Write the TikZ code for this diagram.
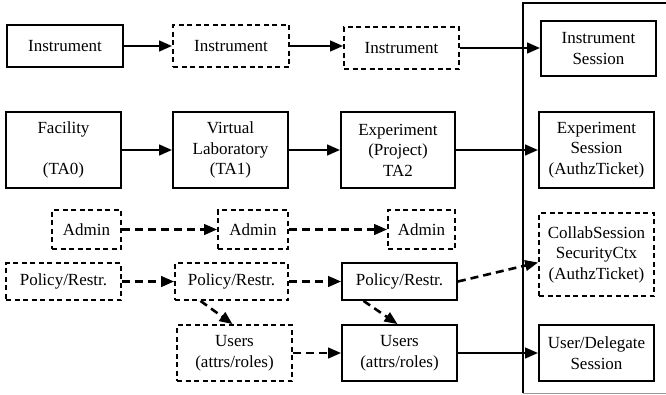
\documentclass[tikz,border=0pt]{standalone}
\usepackage{fontspec}
\setmainfont{Liberation Serif}
\usetikzlibrary{arrows.meta,positioning}

\begin{document}
\begin{tikzpicture}[
  x=1pt, y=-1pt, >={Triangle[length=13pt,width=10.5pt]},
  every node/.style={font=\fontsize{17}{20.5}\selectfont},
  blk/.style={draw, line width=1.8pt, align=center, inner sep=0pt},
  dbox/.style={blk, dash pattern=on 5pt off 3.5pt},
  flow/.style={->, line width=2.6pt},
  dflow/.style={flow, dash pattern=on 8pt off 5pt}
]
  \useasboundingbox (0,0) rectangle (666,394);

  % session frame
  \draw[line width=1.4pt] (666,3) -- (523,3) -- (523,393);
  \draw[line width=1pt, black!40] (523,393) -- (666,393);

  % instrument row
  \node[blk, minimum width=116pt, minimum height=42pt] (instA) at (65,46) {Instrument};
  \node[dbox, minimum width=116pt, minimum height=42pt] (instB) at (231,46) {Instrument};
  \node[dbox, minimum width=115pt, minimum height=42pt] (instC) at (401.5,48) {Instrument};
  \node[blk, minimum width=115pt, minimum height=55pt] (instS) at (598.5,48.5) {Instrument\\Session};

  % authority row
  \node[blk, minimum width=115pt, minimum height=76pt] (fac) at (63.5,150) {Facility\\~\\(TA0)};
  \node[blk, minimum width=115pt, minimum height=76pt] (vlab) at (230.5,150) {Virtual\\Laboratory\\(TA1)};
  \node[blk, minimum width=114pt, minimum height=76pt] (exp) at (398,150) {Experiment\\(Project)\\TA2};
  \node[blk, minimum width=115pt, minimum height=76pt] (expS) at (596.5,150) {Experiment\\Session\\(AuthzTicket)};

  % admin row
  \node[dbox, minimum width=69pt, minimum height=39pt] (admA) at (86.5,229.5) {Admin};
  \node[dbox, minimum width=70pt, minimum height=39pt] (admB) at (253,229.5) {Admin};
  \node[dbox, minimum width=67pt, minimum height=39pt] (admC) at (421.5,229.5) {Admin};

  % policy row
  \node[dbox, minimum width=115pt, minimum height=37pt] (polA) at (63.5,281.5) {Policy/Restr.};
  \node[dbox, minimum width=113pt, minimum height=37pt] (polB) at (231.5,281.5) {Policy/Restr.};
  \node[blk, minimum width=115pt, minimum height=37pt] (polC) at (399.5,281.5) {Policy/Restr.};
  \node[dbox, minimum width=115pt, minimum height=83pt] (collab) at (596.5,254.5) {CollabSession\\SecurityCtx\\(AuthzTicket)};

  % users row
  \node[dbox, minimum width=115pt, minimum height=56pt] (usrA) at (234.5,353) {Users\\(attrs/roles)};
  \node[blk, minimum width=115pt, minimum height=56pt] (usrB) at (399.5,353) {Users\\(attrs/roles)};
  \node[blk, minimum width=115pt, minimum height=56pt] (usrS) at (596.5,353) {User/Delegate\\Session};

  \draw[flow] (instA) -- (instB);
  \draw[flow] (instB.east) -- (instC.west |- instB.east);
  \draw[flow] (instC) -- (instS.west |- instC.east);
  \draw[flow] (fac) -- (vlab);
  \draw[flow] (vlab) -- (exp);
  \draw[flow] (exp) -- (expS);
  \draw[dflow] (admA) -- (admB);
  \draw[dflow] (admB) -- (admC);
  \draw[dflow] (polA) -- (polB);
  \draw[dflow] (polB) -- (polC);
  \draw[dflow] ([xshift=-31pt]polB.south) -- ([xshift=-2pt]usrA.north);
  \draw[dflow] ([xshift=-36pt]polC.south) -- ([xshift=-2pt]usrB.north);
  \draw[dflow] (polC.east) -- ([yshift=-8pt]collab.west);
  \draw[dflow] (usrA) -- (usrB);
  \draw[flow] (usrB) -- (usrS);
\end{tikzpicture}
\end{document}
